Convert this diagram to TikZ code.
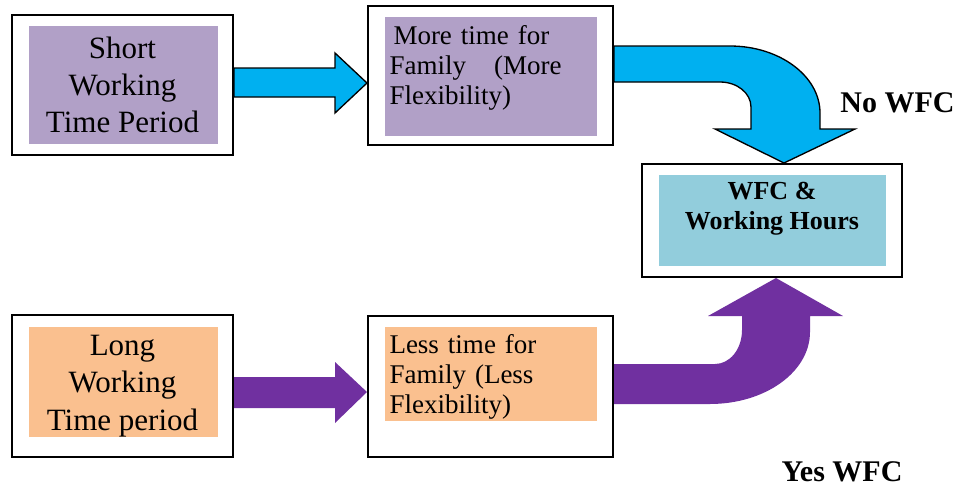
\documentclass[tikz,border=0pt]{standalone}
\usepackage{fontspec}
\setmainfont{Liberation Serif}

\definecolor{lilac}{RGB}{177,160,199}
\definecolor{peach}{RGB}{250,192,143}
\definecolor{paleteal}{RGB}{146,205,220}
\definecolor{skyblue}{RGB}{0,176,240}
\definecolor{grape}{RGB}{112,48,160}

\tikzset{every picture/.style={line width=0.75pt}}

\begin{document}
\begin{tikzpicture}[x=0.75pt,y=0.75pt,yscale=-1,xscale=1,
	outerbox/.style={draw, line width=1.5pt, inner sep=0pt},
	bgbox/.style={inner sep=0pt},
	bigtext/.style={font=\fontsize{23.25}{28}\selectfont, align=center},
	smalltext/.style={font=\fontsize{20.25}{22.5}\selectfont, text width=129pt, align=left, inner sep=0pt, anchor=north west},
	boldtext/.style={font=\fontsize{19.5}{22.5}\selectfont\bfseries, align=center, inner sep=0pt, anchor=north},
	labeltext/.style={font=\fontsize{22.5}{27}\selectfont\bfseries, inner sep=0pt, anchor=base},
	bluearrow/.style={draw=black, line width=1pt, fill=skyblue},
	purplearrow/.style={fill=grape}]
	\useasboundingbox (0,0) rectangle (963,486);

	%Shape: Rectangle [short]
	\node [bgbox, fill=lilac, minimum width=141.75pt, minimum height=88.5pt] (shortbg) at (123.5,85) {};
	\node [outerbox, bigtext, minimum width=165.75pt, minimum height=105pt] (short) at (122.5,85) {Short\\Working\\Time Period};
	%Shape: Rectangle [more time]
	\node [bgbox, fill=lilac, minimum width=159pt, minimum height=89.25pt] (moretimebg) at (491,76.5) {};
	\node [outerbox, minimum width=183.75pt, minimum height=104.25pt] (moretime) at (490.5,75.5) {};
	%Shape: Rectangle [wfc]
	\node [bgbox, fill=paleteal, minimum width=170.25pt, minimum height=68.25pt] (wfcbg) at (772.5,220.5) {};
	\node [outerbox, minimum width=195pt, minimum height=84.75pt] (wfc) at (772,220.5) {};
	%Shape: Rectangle [long]
	\node [bgbox, fill=peach, minimum width=141.75pt, minimum height=82.5pt] (longbg) at (123.5,382) {};
	\node [outerbox, bigtext, minimum width=165.75pt, minimum height=106.5pt] (long) at (122.5,386) {Long\\Working\\Time period};
	%Shape: Rectangle [less time]
	\node [bgbox, fill=peach, minimum width=159pt, minimum height=70.5pt] (lesstimebg) at (491,374) {};
	\node [outerbox, minimum width=183.75pt, minimum height=105.75pt] (lesstime) at (490.5,386.5) {};

	% Text Node
	\node [smalltext] (moretimetxt) at (389,24.5) {\hspace{3pt}More time for\\Family\hfill(More\\Flexibility)};
	% Text Node
	\node [smalltext] (lesstimetxt) at (389,333.5) {Less time for\\Family (Less\\Flexibility)};
	% Text Node
	\node [boldtext] (wfctxt) at (772,182) {WFC \&\\Working Hours};

	%Block Arrow [short to more time]
	\draw [bluearrow] (short.east |- 0,68) -- (335,68) -- (335,53) -- (moretime.west |- 0,83) -- (335,113) -- (335,97) -- (short.east |- 0,97) -- cycle ;
	%Block Arrow [long to less time]
	\fill [purplearrow] (long.east |- 0,377) -- (335,377) -- (335,362) -- (lesstime.west |- 0,392) -- (335,423) -- (335,408) -- (long.east |- 0,408) -- cycle ;
	%Curved Arrow [more time to wfc]
	\draw [bluearrow] (moretime.east |- 0,46) -- (730,46) .. controls (779.5,46) and (820,76) .. (820,113) -- (820,129) -- (855,129) -- (wfc.north -| 784,0) -- (715,129) -- (751,129) -- (751,107) .. controls (751,93) and (737,82) .. (720,82) -- (moretime.east |- 0,82) -- cycle ;
	%Curved Arrow [less time to wfc]
	\fill [purplearrow] (lesstime.east |- 0,364) -- (715,364) .. controls (730,364) and (742,349) .. (742,330) -- (742,316) -- (708,316) -- (wfc.south -| 776,0) -- (843,316) -- (810,316) -- (810,332) .. controls (810,372) and (765,404) .. (710,404) -- (lesstime.east |- 0,404) -- cycle ;

	% Text Node
	\node [labeltext] (nowfc) at (897.5,112) {No WFC};
	% Text Node
	\node [labeltext] (yeswfc) at (842,481) {Yes WFC};

\end{tikzpicture}
\end{document}
